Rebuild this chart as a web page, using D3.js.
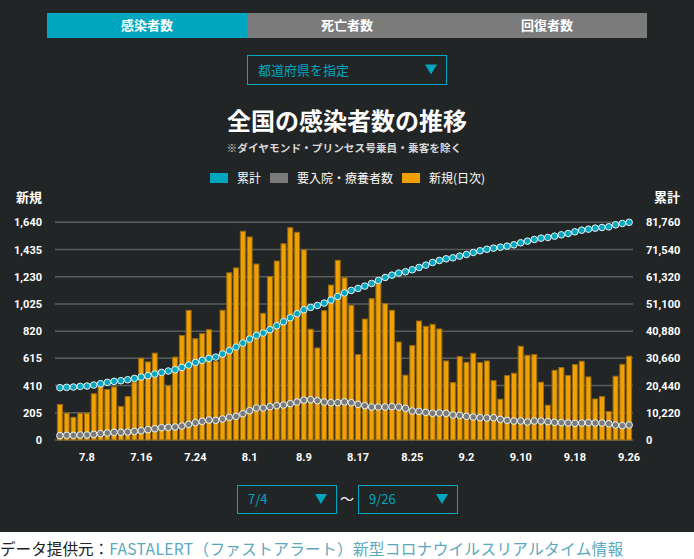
<!DOCTYPE html>
<html>
<head>
<meta charset="utf-8">
<script src="https://cdn.jsdelivr.net/npm/d3@7"></script>
<style>
  html, body { margin: 0; padding: 0; background: #fff; }
  svg { display: block; font-family: "Noto Sans CJK JP", "Noto Sans", sans-serif; }
</style>
</head>
<body>
<svg id="chart"></svg>
<script>
const width = 694;
const height = 559;

// daily new cases, 7/4 .. 9/26
const newCases = [
  271, 206, 175, 206, 206, 352, 422, 384, 404, 257, 331, 440, 620, 592, 658, 494,
  412, 628, 791, 980, 767, 805, 835, 596, 981, 1263, 1300, 1576, 1533, 1329,
  958, 1236, 1352, 1482, 1603, 1568, 1437, 838, 697, 978, 1171, 1357, 1226,
  1018, 647, 915, 1068, 1186, 1031, 981, 742, 492, 715, 900, 860, 875, 840,
  599, 436, 632, 589, 657, 587, 599, 451, 311, 489, 507, 710, 642, 647, 439,
  266, 529, 549, 489, 572, 597, 479, 313, 331, 218, 484, 574, 635
];

// cumulative cases
const cumulative = [
  19640, 19770, 19890, 20140, 20270, 20640, 21140, 21640, 22020, 22270, 22640,
  23140, 23640, 24140, 24770, 25400, 25900, 26400, 27270, 28150, 29150, 29900,
  30650, 31150, 32280, 33530, 34900, 36400, 37900, 39280, 40160, 41410, 42910,
  44410, 45910, 47410, 48910, 49790, 50540, 51420, 52540, 53920, 55230, 56170,
  56920, 57800, 58800, 59920, 61050, 61920, 62680, 63180, 63930, 64800, 65680,
  66680, 67430, 68050, 68430, 69060, 69680, 70430, 71060, 71620, 72060, 72430,
  72810, 73310, 74060, 74690, 75310, 75810, 76060, 76560, 77060, 77560, 78190,
  78810, 79190, 79560, 79810, 80060, 80810, 81320, 81760
];

// hospitalised / recuperating
const inCare = [
  1630, 1750, 1750, 1880, 1880, 2130, 2380, 2630, 2880, 2880, 3000, 3250, 3500,
  3880, 4250, 4630, 4750, 4880, 5250, 5880, 6500, 7010, 7510, 7380, 7880, 8510,
  8880, 9880, 11010, 12010, 12010, 12510, 12890, 13140, 13640, 14260, 15010,
  15140, 14760, 14260, 14010, 14010, 14320, 14010, 13390, 12890, 12390, 12390,
  12390, 12510, 12390, 11890, 10880, 10760, 10380, 10010, 10130, 10010, 9380,
  9260, 8880, 8630, 8380, 8260, 8380, 7760, 7380, 7130, 7130, 6760, 7130, 7130,
  6880, 6630, 6510, 6380, 6260, 6380, 6510, 6380, 6380, 6130, 5630, 5380, 5630
];

const leftTicks = [0, 205, 410, 615, 820, 1025, 1230, 1435, 1640];
const rightTicks = [0, 10220, 20440, 30660, 40880, 51100, 61320, 71540, 81760];
const xTickLabels = ["7.8", "7.16", "7.24", "8.1", "8.9", "8.17", "8.25", "9.2", "9.10", "9.18", "9.26"];

const tabs = ["感染者数", "死亡者数", "回復者数"];
const legendItems = [
  { label: "累計", color: "#00a6bf" },
  { label: "要入院・療養者数", color: "#7b7b7b" },
  { label: "新規(日次)", color: "#f0a000" }
];

const days = d3.timeDay.range(new Date(2020, 6, 4), new Date(2020, 8, 27));
const dayKey = d => `${d.getMonth() + 1}.${d.getDate()}`;

const bg = "#222526";
const teal = "#00a6bf";

const svg = d3.select("#chart")
  .attr("width", width)
  .attr("height", height);

svg.append("rect")
  .attr("width", width)
  .attr("height", 532)
  .attr("fill", bg);

// tabs
const tabW = 200;
tabs.forEach((t, i) => {
  svg.append("rect")
    .attr("x", 47 + i * tabW)
    .attr("y", 13)
    .attr("width", tabW)
    .attr("height", 25)
    .attr("fill", i === 0 ? teal : "#7b7b7b");
  svg.append("text")
    .attr("x", 47 + i * tabW + tabW / 2)
    .attr("y", 30)
    .attr("text-anchor", "middle")
    .attr("font-size", "13px")
    .attr("font-weight", "bold")
    .attr("fill", "#fff")
    .text(t);
});

// select box helper
function selectBox(x, y, w, h, label) {
  svg.append("rect")
    .attr("x", x + 0.5).attr("y", y + 0.5)
    .attr("width", w).attr("height", h)
    .attr("fill", "none")
    .attr("stroke", teal)
    .attr("stroke-width", 1);
  svg.append("text")
    .attr("x", x + 11)
    .attr("y", y + h / 2 + 5)
    .attr("font-size", "13px")
    .attr("fill", teal)
    .text(label);
  const tx = x + w - 15, ty = y + h / 2;
  svg.append("path")
    .attr("d", `M${tx - 6},${ty - 5} L${tx + 6},${ty - 5} L${tx},${ty + 5} Z`)
    .attr("fill", teal);
}

selectBox(247, 55, 199, 29, "都道府県を指定");

// titles
svg.append("text")
  .attr("x", 347).attr("y", 130)
  .attr("text-anchor", "middle")
  .attr("font-size", "24px")
  .attr("font-weight", "bold")
  .attr("fill", "#fff")
  .text("全国の感染者数の推移");

svg.append("text")
  .attr("x", 344).attr("y", 152)
  .attr("text-anchor", "middle")
  .attr("font-size", "10.7px")
  .attr("font-weight", "bold")
  .attr("fill", "#d8d8d8")
  .text("※ダイヤモンド・プリンセス号乗員・乗客を除く");

// legend
const legend = svg.append("g").attr("transform", "translate(210,173)");
let lx = 0;
legendItems.forEach(item => {
  legend.append("rect")
    .attr("x", lx).attr("y", 0)
    .attr("width", 18).attr("height", 10)
    .attr("fill", item.color);
  const t = legend.append("text")
    .attr("x", lx + 27).attr("y", 9.5)
    .attr("font-size", "12px")
    .attr("fill", "#fff")
    .text(item.label);
  lx += 27 + t.node().getComputedTextLength() + 9;
});

svg.append("text")
  .attr("x", 16).attr("y", 202)
  .attr("font-size", "13px").attr("font-weight", "bold")
  .attr("fill", "#fff").text("新規");
svg.append("text")
  .attr("x", 680).attr("y", 202)
  .attr("text-anchor", "end")
  .attr("font-size", "13px").attr("font-weight", "bold")
  .attr("fill", "#fff").text("累計");

// scales
const x = d3.scaleBand()
  .domain(days.map(dayKey))
  .range([56.5, 632.5])
  .paddingInner(0.12)
  .paddingOuter(0.06);

const yLeft = d3.scaleLinear().domain([0, 1640]).range([440, 222.3]);
const yRight = d3.scaleLinear().domain([0, 81760]).range([440, 222.3]);

// grid
svg.append("g")
  .selectAll("line")
  .data(leftTicks)
  .join("line")
  .attr("x1", 55).attr("x2", 633)
  .attr("y1", d => yLeft(d)).attr("y2", d => yLeft(d))
  .attr("stroke", "#5a5c5c")
  .attr("stroke-width", 1.5);

// axes (labels only)
const fmt = d3.format(",");
const leftAxis = svg.append("g")
  .attr("transform", "translate(42,0)")
  .call(d3.axisLeft(yLeft).tickValues(leftTicks).tickFormat(fmt).tickSize(0).tickPadding(0));
const rightAxis = svg.append("g")
  .attr("transform", "translate(646,0)")
  .call(d3.axisRight(yRight).tickValues(rightTicks).tickFormat(fmt).tickSize(0).tickPadding(0));
[leftAxis, rightAxis].forEach(a => {
  a.select(".domain").remove();
  a.selectAll("text")
    .attr("fill", "#fff")
    .attr("font-family", "Roboto, sans-serif")
    .attr("font-weight", "bold")
    .attr("font-size", "11px");
});

const xAxis = svg.append("g")
  .attr("transform", "translate(0,451)")
  .call(d3.axisBottom(x).tickValues(xTickLabels).tickSize(0).tickPadding(0));
xAxis.select(".domain").remove();
xAxis.selectAll("text")
  .attr("dy", "0.9em")
  .attr("fill", "#fff")
  .attr("font-family", "Roboto, sans-serif")
  .attr("font-weight", "bold")
  .attr("font-size", "11px");

// bars
svg.append("g")
  .selectAll("rect")
  .data(newCases)
  .join("rect")
  .attr("x", (d, i) => x(dayKey(days[i])) + 0.5)
  .attr("y", d => yLeft(d) + 0.5)
  .attr("width", x.bandwidth() - 1)
  .attr("height", d => yLeft(0) - yLeft(d) - 0.5)
  .attr("fill", "#f0a000")
  .attr("stroke", "#9a6c10")
  .attr("stroke-width", 1);

// lines with dots
function series(data, color) {
  const cx = i => x(dayKey(days[i])) + x.bandwidth() / 2;
  svg.append("path")
    .datum(data)
    .attr("fill", "none")
    .attr("stroke", color)
    .attr("stroke-width", 2)
    .attr("d", d3.line().x((d, i) => cx(i)).y(d => yRight(d)));
  svg.append("g")
    .selectAll("circle")
    .data(data)
    .join("circle")
    .attr("cx", (d, i) => cx(i))
    .attr("cy", d => yRight(d))
    .attr("r", 3.3)
    .attr("fill", color)
    .attr("stroke", "#e8f4f6")
    .attr("stroke-width", 1);
}
series(inCare, "#7b7b7b");
series(cumulative, teal);

// date range selectors
selectBox(237, 485, 99, 28, "7/4");
svg.append("text")
  .attr("x", 347).attr("y", 504)
  .attr("text-anchor", "middle")
  .attr("font-size", "14px")
  .attr("fill", "#fff")
  .text("〜");
selectBox(358, 485, 99, 28, "9/26");

// credit
const credit = svg.append("text")
  .attr("x", 0).attr("y", 555)
  .attr("font-size", "15.6px");
credit.append("tspan").attr("fill", "#222").text("データ提供元：");
credit.append("tspan").attr("fill", "#5aa8bd").attr("letter-spacing", "0.35px")
  .text("FASTALERT（ファストアラート）新型コロナウイルスリアルタイム情報");
</script>
</body>
</html>
